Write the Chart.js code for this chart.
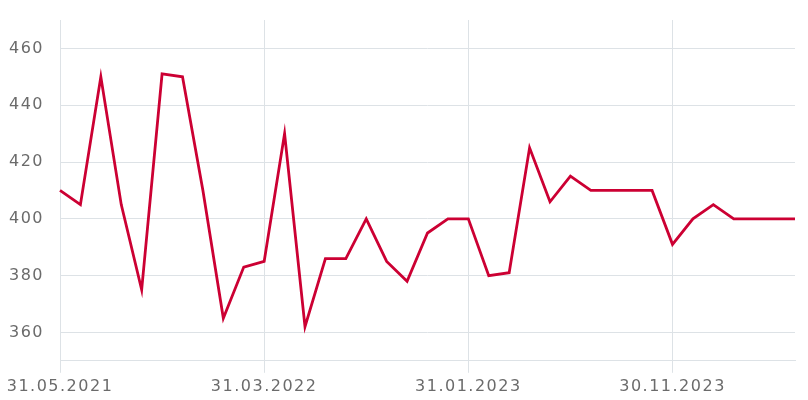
<!DOCTYPE html>
<html>
<head>
<meta charset="utf-8">
<script src="https://cdn.jsdelivr.net/npm/chart.js@4/dist/chart.umd.min.js"></script>
<style>
  html, body { margin: 0; padding: 0; background: #fff; }
  #wrap { width: 808px; height: 400px; }
</style>
</head>
<body>
<div id="wrap"><canvas id="chart"></canvas></div>
<script>
// monthly dates, 31.05.2021 .. 31.05.2024
const dates = [
  '31.05.2021','30.06.2021','31.07.2021','31.08.2021','30.09.2021','31.10.2021','30.11.2021','31.12.2021',
  '31.01.2022','28.02.2022','31.03.2022','30.04.2022','31.05.2022','30.06.2022','31.07.2022','31.08.2022',
  '30.09.2022','31.10.2022','30.11.2022','31.12.2022','31.01.2023','28.02.2023','31.03.2023','30.04.2023',
  '31.05.2023','30.06.2023','31.07.2023','31.08.2023','30.09.2023','31.10.2023','30.11.2023','31.12.2023',
  '31.01.2024','29.02.2024','31.03.2024','30.04.2024','31.05.2024'
];
const values = [
  410, 405, 450, 405, 375, 451, 450, 410, 365, 383,
  385, 430, 362, 386, 386, 400, 385, 378, 395, 400,
  400, 380, 381, 425, 406, 415, 410, 410, 410, 410,
  391, 400, 405, 400, 400, 400, 400
];
const yTicks = [360, 380, 400, 420, 440, 460];
const labelEvery = 10;

const textColor = '#6b6b6b';
const gridColor = '#dde2e6';

const spacing = {
  id: 'spacing',
  beforeDraw(chart) { chart.ctx.letterSpacing = '1.5px'; }
};

new Chart(document.getElementById('chart'), {
  type: 'line',
  data: {
    labels: dates,
    datasets: [{
      data: values,
      borderColor: '#cc0033',
      borderWidth: 2.8,
      pointRadius: 0,
      tension: 0,
      fill: false
    }]
  },
  options: {
    responsive: true,
    maintainAspectRatio: false,
    animation: false,
    layout: { padding: { top: 20, right: 13, left: 0, bottom: 0 } },
    plugins: { legend: { display: false }, tooltip: { enabled: false } },
    scales: {
      x: {
        offset: false,
        border: { color: gridColor },
        grid: {
          color: ctx => (ctx.index % labelEvery === 0 ? gridColor : 'rgba(0,0,0,0)'),
          tickLength: 12,
          lineWidth: 1
        },
        ticks: {
          autoSkip: false,
          maxRotation: 0,
          color: textColor,
          font: { family: 'DejaVu Sans', size: 16 },
          padding: 4,
          callback: (v, i) => (i % labelEvery === 0 ? dates[i] : '')
        }
      },
      y: {
        min: 350,
        max: 470,
        border: { display: false },
        afterBuildTicks: s => { s.ticks = yTicks.map(v => ({ value: v })); },
        afterFit: s => { s.width = 60; s.paddingTop = 0; s.paddingBottom = 0; },
        grid: { color: gridColor, drawTicks: false },
        ticks: {
          color: textColor,
          font: { family: 'DejaVu Sans', size: 16 },
          padding: 16
        }
      }
    }
  },
  plugins: [spacing]
});
</script>
</body>
</html>
